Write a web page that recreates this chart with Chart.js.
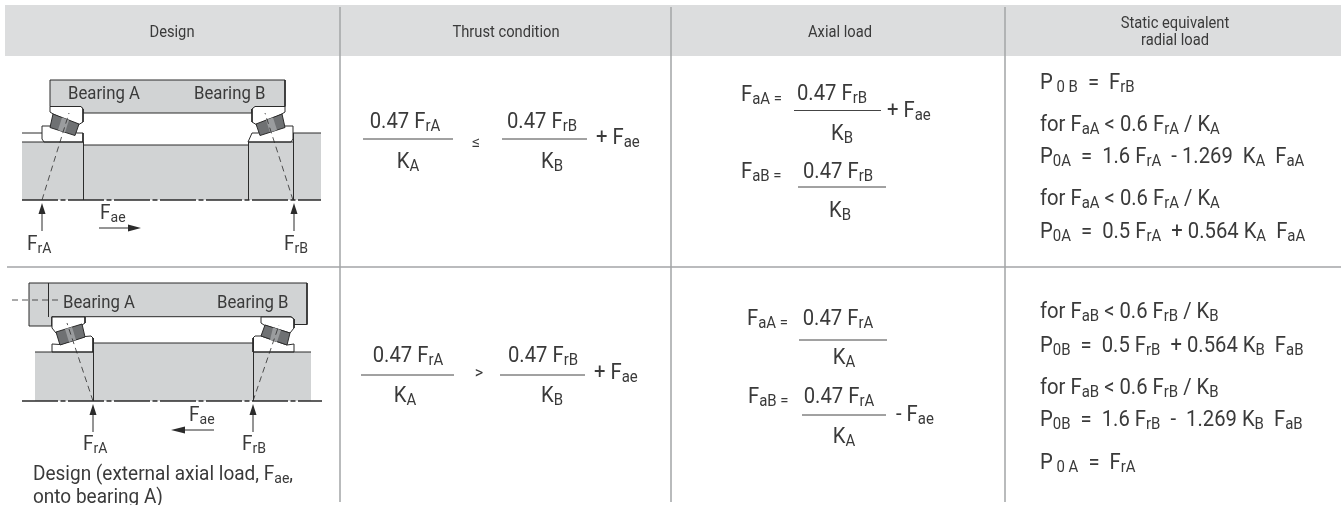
<!DOCTYPE html>
<html>
<head>
<meta charset="utf-8">
<script src="https://cdn.jsdelivr.net/npm/chart.js@4"></script>
<style>
  html, body { margin: 0; padding: 0; background: #fff; overflow: hidden; }
  canvas { display: block; }
</style>
</head>
<body>
<canvas id="chart" width="1341" height="505"></canvas>
<script>
// table text, _{..} marks a subscript
const headerLabels = ['Design', 'Thrust condition', 'Axial load', 'Static equivalent', 'radial load'];
const headerX = [172, 506, 840, 1175, 1175];
const headerY = [37, 37, 37, 28, 45];

const fractionLabels = [
  '0.47 F_{rA}', 'K_{A}', '0.47 F_{rB}', 'K_{B}',
  '0.47 F_{rB}', 'K_{B}', '0.47 F_{rB}', 'K_{B}',
  '0.47 F_{rA}', 'K_{A}', '0.47 F_{rB}', 'K_{B}',
  '0.47 F_{rA}', 'K_{A}', '0.47 F_{rA}', 'K_{A}'
];
const fractionX = [405, 408, 542, 552, 832, 842, 838, 840, 408, 405, 543, 552, 838, 844, 839, 844];
const fractionY = [128, 168, 128, 168, 100, 140, 178, 217, 362, 402, 362, 402, 325, 364, 403, 443];

const formulaLabels = [
  '+ F_{ae}', 'F_{aA =}', '+ F_{ae}', 'F_{aB =}',
  '+ F_{ae}', 'F_{aA =}', 'F_{aB =}', '- F_{ae}',
  'P_{ 0 B}  =  F_{rB}',
  'for F_{aA} < 0.6 F_{rA} / K_{A}',
  'P_{0A}  =  1.6 F_{rA}  - 1.269  K_{A}  F_{aA}',
  'for F_{aA} < 0.6 F_{rA} / K_{A}',
  'P_{0A}  =  0.5 F_{rA}  + 0.564 K_{A}  F_{aA}',
  'for F_{aB} < 0.6 F_{rB} / K_{B}',
  'P_{0B}  =  0.5 F_{rB}  + 0.564 K_{B}  F_{aB}',
  'for F_{aB} < 0.6 F_{rB} / K_{B}',
  'P_{0B}  =  1.6 F_{rB}  -  1.269 K_{B}  F_{aB}',
  'P_{ 0 A}  =  F_{rA}'
];
const formulaX = [596, 741, 887, 741, 594, 747, 748, 896, 1040, 1040, 1040, 1040, 1040, 1040, 1040, 1040, 1040, 1040];
const formulaY = [144, 101, 117, 178, 379, 325, 403, 421, 89, 131, 163, 205, 238, 318, 352, 394, 426, 469];

const compareLabels = ['≤', '>'];
const compareX = [476, 479];
const compareY = [147, 378];

const drawingLabels = ['Bearing A', 'Bearing B', 'Bearing A', 'Bearing B'];
const drawingX = [68, 194, 63, 217];
const drawingY = [99, 99, 308, 308];

const forceLabels = ['F_{rA}', 'F_{ae}', 'F_{rB}', 'F_{rA}', 'F_{ae}', 'F_{rB}'];
const forceX = [27, 100, 284, 83, 189, 242];
const forceY = [250, 219, 250, 450, 421, 450];

const captionLabels = ['Design (external axial load, F_{ae},', 'onto bearing A)'];
const captionX = [33, 33];
const captionY = [480, 503];

// fraction bars: left, right, height
const barLeft = [363, 502, 794, 798, 361, 500, 799, 802];
const barRight = [453, 587, 881, 886, 454, 585, 887, 886];
const barY = [139, 139, 110.5, 187, 375, 375, 340, 415];

// table frame
const headerBand = [[5, 5], [1341, 5], [1341, 56], [5, 56], [5, 5]];
const rowRule = [[7, 267], [1341, 267]];
const columnRules = [
  [[340, 7], [340, 502]],
  [[671, 7], [671, 502]],
  [[1005, 7], [1005, 502]]
];

// upper drawing
const topHousing = [[50, 80], [285, 80], [285, 106.5], [256, 106.5], [252, 109], [252, 113], [83, 113], [83, 109], [81, 106.5], [50, 106.5], [50, 80]];
const topCups = [
  [[50, 106.5], [81, 106.5], [83, 109], [83, 122], [78, 125], [54, 114.5], [50, 112], [50, 106.5]],
  [[285, 106.5], [255, 106.5], [252, 109], [252, 122], [257, 125], [281, 114.5], [285, 112], [285, 106.5]]
];
const topCones = [
  [[42, 126], [50, 126], [77, 133], [83, 133], [83, 142], [44, 142], [42, 139], [42, 126]],
  [[293, 126], [285, 126], [258, 133], [252, 133], [248, 142], [291, 142], [293, 139], [293, 126]]
];
const topRollers = [
  [[53, 114], [79, 124], [75, 135.5], [50, 127.5], [53, 114]],
  [[282, 114], [256, 124], [260, 135.5], [285, 127.5], [282, 114]]
];
const topRollerGlints = [
  [[62, 117.5], [69, 120], [65, 132.5], [58, 130], [62, 117.5]],
  [[273, 117.5], [266, 120], [270, 132.5], [277, 130], [273, 117.5]]
];
const topShaft = [[22, 142], [83, 142], [83, 145], [248, 145], [248, 142], [293, 142], [293, 133], [321, 133], [321, 200], [22, 200], [22, 142]];
const topEdges = [
  [[22, 133], [42, 133]],
  [[22, 142], [83, 142]],
  [[83, 145], [248, 145]],
  [[248, 142], [293, 142]],
  [[293, 133], [321, 133]],
  [[83.5, 142], [83.5, 200]],
  [[248.5, 142], [248.5, 200]],
  [[293.5, 133], [293.5, 200]]
];
const topAxis = [[22, 200], [321, 200]];
const topDashes = [
  [[42, 200], [69, 113]],
  [[293, 200], [265, 113]]
];

// lower drawing
const lowHousing = [[29, 283], [307, 283], [307, 324.5], [294, 324.5], [294, 319], [291, 316.7], [52, 316.7], [52, 326], [29, 326], [29, 283]];
const lowCups = [
  [[52, 317], [85, 317], [85, 323], [82, 325], [56, 333], [52, 328], [52, 317]],
  [[261, 317], [291, 317], [294, 319], [294, 328], [290, 333], [264, 325], [261, 323], [261, 317]]
];
const lowCones = [
  [[52, 344], [60, 344.5], [85, 336.5], [91, 336], [93, 338], [93, 352], [52, 352], [52, 344]],
  [[294, 344], [287, 345], [261, 336], [255, 336], [253, 338], [253, 352], [294, 352], [294, 344]]
];
const lowRollers = [
  [[56, 332], [82, 324], [85, 337], [60, 345], [56, 332]],
  [[265, 325], [290, 333], [287, 345], [261, 336], [265, 325]]
];
const lowRollerGlints = [
  [[65, 329], [72, 327], [76, 340], [69, 342], [65, 329]],
  [[273, 327.5], [281, 330], [277, 342], [270, 340], [273, 327.5]]
];
const lowShaft = [[35, 352], [93, 352], [93, 343], [253, 343], [253, 352], [311, 352], [311, 401], [35, 401], [35, 352]];
const lowEdges = [
  [[48.5, 283], [48.5, 316.7]],
  [[35, 352], [93, 352]],
  [[93, 343], [253, 343]],
  [[253, 352], [311, 352]],
  [[93.5, 338], [93.5, 401]],
  [[253.5, 338], [253.5, 401]]
];
const lowAxis = [[22, 401], [322, 401]];
const lowDashes = [
  [[12, 300], [62, 300]],
  [[93, 401], [67, 323]],
  [[253, 401], [279, 325]]
];

// arrows: shaft plus head
const arrowShafts = [
  [[42, 231], [42, 210]], [[294, 231], [294, 210]], [[99, 228], [130, 228]],
  [[93, 432], [93, 411]], [[253, 432], [253, 411]], [[214, 430], [183, 430]]
];
const arrowHeads = [
  [[42, 203], [38.5, 214], [45.5, 214], [42, 203]],
  [[294, 203], [290.5, 214], [297.5, 214], [294, 203]],
  [[141, 228], [128, 224.5], [128, 231.5], [141, 228]],
  [[93, 404], [89.5, 415], [96.5, 415], [93, 404]],
  [[253, 404], [249.5, 415], [256.5, 415], [253, 404]],
  [[171, 430], [185, 426.5], [185, 433.5], [171, 430]]
];

const INK = '#2b2b2b';
const TEXT = '#3a3a3a';
const RULE = '#a3a5a7';
const GREY = '#d1d3d4';
const FONT = 'Roboto, sans-serif';

const datasets = [];
const toXY = pts => pts.map(p => ({ x: p[0], y: p[1] }));

function addLine(pts, color, width, dash) {
  datasets.push({ data: toXY(pts), borderColor: color, borderWidth: width, borderDash: dash || [], fill: false });
}
function addShape(pts, fillColor, lineColor, width) {
  datasets.push({ data: toXY(pts), backgroundColor: fillColor, borderColor: lineColor, borderWidth: width, fill: 'shape' });
}

addShape(headerBand, '#dcddde', '#dcddde', 0);
addLine(rowRule, RULE, 1.5);
columnRules.forEach(r => addLine(r, RULE, 1.5));

addShape(topShaft, GREY, GREY, 0);
addShape(topHousing, GREY, INK, 1);
topCups.forEach(p => addShape(p, '#fff', INK, 1));
topCones.forEach(p => addShape(p, '#fff', INK, 1));
topRollers.forEach(p => addShape(p, '#6f7173', INK, 1));
topRollerGlints.forEach(p => addShape(p, '#9a9c9e', '#9a9c9e', 0));
topEdges.forEach(r => addLine(r, INK, 1));
addLine(topAxis, INK, 1.3, [36, 2.5, 5, 2.5]);
topDashes.forEach(r => addLine(r, INK, 0.8, [6, 4]));

addShape(lowShaft, GREY, GREY, 0);
addShape(lowHousing, GREY, INK, 1);
lowCups.forEach(p => addShape(p, '#fff', INK, 1));
lowCones.forEach(p => addShape(p, '#fff', INK, 1));
lowRollers.forEach(p => addShape(p, '#6f7173', INK, 1));
lowRollerGlints.forEach(p => addShape(p, '#9a9c9e', '#9a9c9e', 0));
lowEdges.forEach(r => addLine(r, INK, 1));
addLine(lowAxis, INK, 1.3, [36, 2.5, 5, 2.5]);
lowDashes.forEach(r => addLine(r, INK, 0.8, [6, 4]));

arrowShafts.forEach(r => addLine(r, INK, 1));
arrowHeads.forEach(p => addShape(p, INK, INK, 0));

barLeft.forEach((left, i) => addLine([[left, barY[i]], [barRight[i], barY[i]]], '#444', 1));

// later entries paint on top
datasets.forEach((d, i) => { d.order = datasets.length - i; });

function splitRuns(label) {
  return label.split(/(_\{[^}]*\})/).filter(Boolean).map(part =>
    part.startsWith('_{') ? { text: part.slice(2, -1), sub: true } : { text: part, sub: false });
}

function drawRuns(ctx, label, x, y, size, narrow, centered) {
  const runs = splitRuns(label);
  const subSize = size * 0.74;
  const fontFor = r => (r.sub ? subSize : size) + 'px ' + FONT;
  let width = 0;
  runs.forEach(r => { ctx.font = fontFor(r); width += ctx.measureText(r.text).width * narrow; });
  let pen = centered ? x - width / 2 : x;
  runs.forEach(r => {
    ctx.font = fontFor(r);
    ctx.save();
    ctx.translate(pen, r.sub ? y + size * 0.13 : y);
    ctx.scale(narrow, 1);
    ctx.fillText(r.text, 0, 0);
    ctx.restore();
    pen += ctx.measureText(r.text).width * narrow;
  });
}

const tableText = {
  id: 'tableText',
  afterDatasetsDraw(chart) {
    const { ctx, scales } = chart;
    const px = v => scales.x.getPixelForValue(v);
    const py = v => scales.y.getPixelForValue(v);
    ctx.save();
    ctx.fillStyle = TEXT;
    ctx.textAlign = 'left';
    ctx.textBaseline = 'alphabetic';
    headerLabels.forEach((t, i) => drawRuns(ctx, t, px(headerX[i]), py(headerY[i]), 16, 0.92, true));
    fractionLabels.forEach((t, i) => drawRuns(ctx, t, px(fractionX[i]), py(fractionY[i]), 22, 0.92, true));
    formulaLabels.forEach((t, i) => drawRuns(ctx, t, px(formulaX[i]), py(formulaY[i]), 22, 0.92, false));
    compareLabels.forEach((t, i) => drawRuns(ctx, t, px(compareX[i]), py(compareY[i]), 16, 1, true));
    drawingLabels.forEach((t, i) => drawRuns(ctx, t, px(drawingX[i]), py(drawingY[i]), 18, 0.93, false));
    forceLabels.forEach((t, i) => drawRuns(ctx, t, px(forceX[i]), py(forceY[i]), 20, 0.95, false));
    captionLabels.forEach((t, i) => drawRuns(ctx, t, px(captionX[i]), py(captionY[i]), 20, 0.95, false));
    ctx.restore();
  }
};

new Chart(document.getElementById('chart'), {
  type: 'scatter',
  data: { datasets },
  options: {
    responsive: false,
    animation: false,
    events: [],
    layout: { padding: 0 },
    showLine: true,
    elements: { point: { radius: 0 }, line: { tension: 0 } },
    plugins: { legend: { display: false }, tooltip: { enabled: false } },
    scales: {
      x: { type: 'linear', min: 0, max: 1341, display: false },
      y: { type: 'linear', min: 0, max: 505, reverse: true, display: false }
    }
  },
  plugins: [tableText]
});
</script>
</body>
</html>
